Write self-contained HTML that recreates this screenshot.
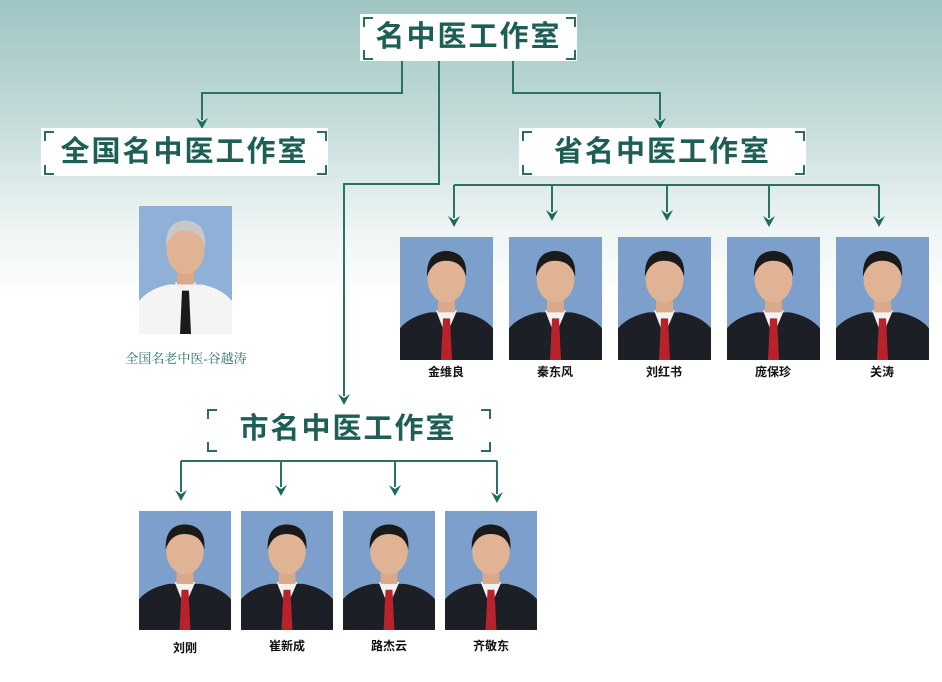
<!DOCTYPE html>
<html><head><meta charset="utf-8"><style>
body{margin:0;width:942px;height:682px;overflow:hidden;background:linear-gradient(#9ec4c3 0px,#c4dcda 120px,#eef5f4 230px,#fff 300px);font-family:"Liberation Sans","Noto Sans CJK SC",sans-serif;position:relative}
.box{position:absolute;background:#fff;color:#1d5e55;font-weight:bold;text-align:center;letter-spacing:2px}
.c{position:absolute;width:8px;height:8px;border-color:#2a6e62;border-style:solid}
.nm{position:absolute;font-size:12px;font-weight:bold;color:#111;text-align:center;width:100px}
svg.p{position:absolute}
</style></head><body>
<svg width="942" height="682" style="position:absolute;left:0;top:0">
<g stroke="#2a7266" stroke-width="2" fill="none">
<path d="M402 61 V93 H202 V120"/>
<path d="M513 61 V93 H660 V120"/>
<path d="M439 61 V184 H344 V396"/>
<path d="M454 185 H879"/>
<path d="M454 185 V218"/><path d="M552 185 V212"/><path d="M667 185 V212"/><path d="M769 185 V218"/><path d="M879 185 V218"/>
<path d="M181 461 H497"/>
<path d="M181 461 V492"/><path d="M281 461 V487"/><path d="M395 461 V487"/><path d="M497 461 V494"/>
</g>
<g fill="#1f6a5e" id="arr"></g>
</svg>

<div class="box" style="left:360px;top:14px;width:217px;height:47px;line-height:47px;font-size:29px">名中医工作室</div>
<div class="box" style="left:41px;top:128px;width:287px;height:48px;line-height:48px;font-size:29px">全国名中医工作室</div>
<div class="box" style="left:519px;top:128px;width:287px;height:48px;line-height:48px;font-size:29px">省名中医工作室</div>
<div class="box" style="left:204px;top:406px;width:288px;height:47px;line-height:47px;font-size:29px;background:transparent">市名中医工作室</div>

<div id="corners"></div>
<script>
var A=[[202,129],[660,129],[344,405],[454,227],[552,221],[667,221],[769,227],[879,227],[181,501],[281,496],[395,496],[497,503]];
var s='';A.forEach(function(a){var x=a[0],y=a[1];s+='<path d="M'+(x-6)+' '+(y-11)+' L'+x+' '+y+' L'+(x+6)+' '+(y-11)+' L'+x+' '+(y-7)+'Z"/>';});
document.getElementById('arr').innerHTML=s;
var bx=[[360,14,217,47],[41,128,287,48],[519,128,287,48],[204,406,288,47]];
var h='';bx.forEach(function(b){var x=b[0]+3,y=b[1]+3,r=b[0]+b[2]-11,d=b[1]+b[3]-11;
h+='<div class="c" style="left:'+x+'px;top:'+y+'px;border-width:2px 0 0 2px"></div>';
h+='<div class="c" style="left:'+r+'px;top:'+y+'px;border-width:2px 2px 0 0"></div>';
h+='<div class="c" style="left:'+x+'px;top:'+d+'px;border-width:0 0 2px 2px"></div>';
h+='<div class="c" style="left:'+r+'px;top:'+d+'px;border-width:0 2px 2px 0"></div>';});
var P=function(x,y,w,hh,hair){return '<svg class="p" style="left:'+x+'px;top:'+y+'px" width="'+w+'" height="'+hh+'" viewBox="0 0 93 124" preserveAspectRatio="none"><rect width="93" height="124" fill="#7d9fcb"/><path d="M0 124 V92 Q10 80 30 76 L63 76 Q83 80 93 92 V124Z" fill="#1c1f26"/><path d="M36 74 L46 100 L57 74Z" fill="#f2f2f2"/><path d="M43 82 L50 82 L52 124 L41 124Z" fill="#b8222a"/><rect x="38" y="58" width="17" height="18" fill="#d9a98a"/><ellipse cx="46.5" cy="42" rx="19" ry="24" fill="#e0b394"/><path d="M27 40 Q26 15 46 14 Q68 15 66 40 Q62 24 46 24 Q32 24 27 40Z" fill="'+hair+'"/></svg>';};
h+=P(139,206,93,128,'#c8c8c8').replace('#7d9fcb','#8fb1d8').replace('#1c1f26','#f4f4f4').replace('#b8222a','#1a1a1a');
[400,509,618,727,836].forEach(function(x){h+=P(x,237,93,123,'#1a1a1a');});
[139,241,343,445].forEach(function(x){h+=P(x,511,92,119,'#1a1a1a');});
document.getElementById('corners').innerHTML=h;
</script>
<div style="position:absolute;left:100px;top:348px;width:172px;text-align:center;font-family:'Liberation Serif','Noto Serif CJK SC',serif;font-size:13px;color:#2a6e62">全国名老中医-谷越涛</div>
<div class="nm" style="left:396px;top:363px">金维良</div>
<div class="nm" style="left:505px;top:363px">秦东风</div>
<div class="nm" style="left:614px;top:363px">刘红书</div>
<div class="nm" style="left:723px;top:363px">庞保珍</div>
<div class="nm" style="left:832px;top:363px">关涛</div>
<div class="nm" style="left:135px;top:639px">刘刚</div>
<div class="nm" style="left:237px;top:637px">崔新成</div>
<div class="nm" style="left:339px;top:637px">路杰云</div>
<div class="nm" style="left:441px;top:637px">齐敬东</div>
</body></html>
